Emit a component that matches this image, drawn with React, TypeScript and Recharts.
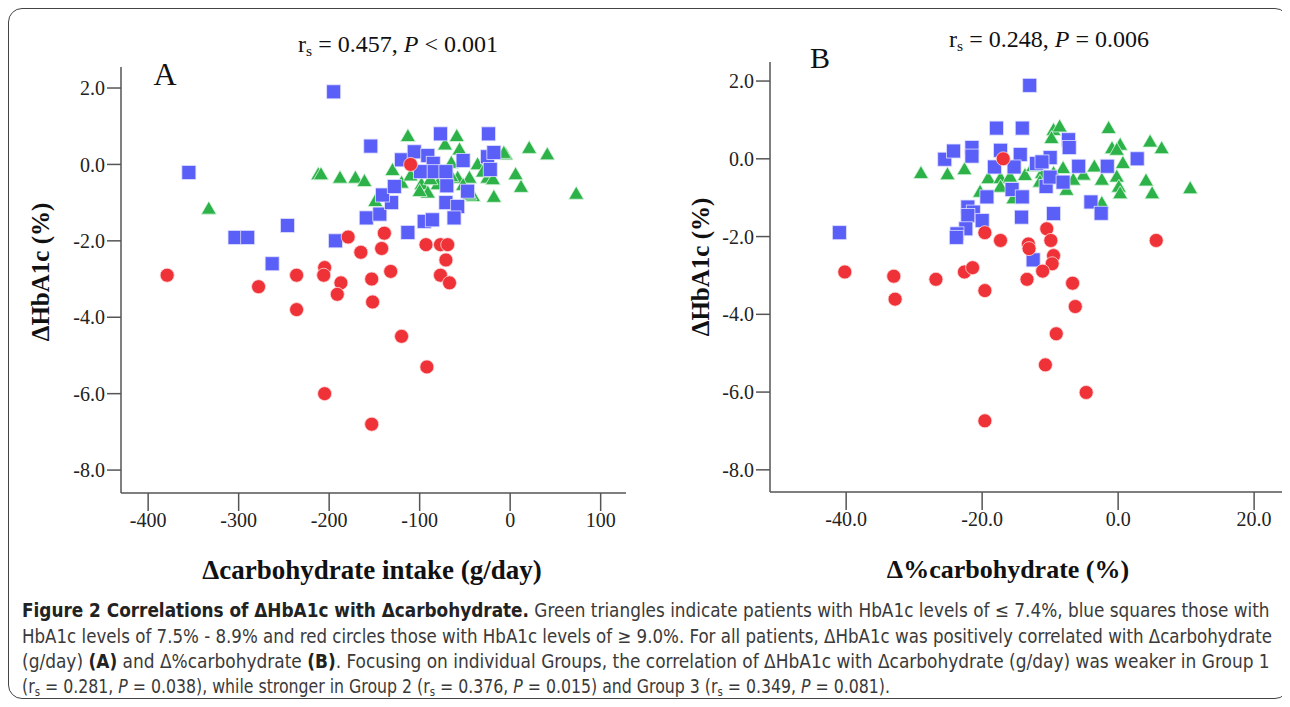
import React, { useLayoutEffect, useRef, useState } from 'react';
import { ScatterChart, Scatter, XAxis, YAxis } from 'recharts';

// panel A: Δcarbohydrate intake (g/day) vs ΔHbA1c (%)
const greenA: [number, number][] = [
  [-333, -1.17], [-212, -0.27], [-209, -0.27], [-188, -0.36], [-171, -0.36], [-161, -0.45],
  [-130, -0.16], [-149, -0.97], [-113, 0.73], [-59, 0.73], [-72, 0.51], [-56, 0.38],
  [21, 0.42], [41, 0.25], [-5, 0.25], [-7, 0.29], [6, -0.27], [12, -0.6], [-18, -0.86],
  [73, -0.78], [-120, -0.49], [-98, -0.53], [-91, -0.75], [-100, -0.71], [-58, -0.36],
  [-45, -0.36], [-36, -0.01], [-25, -0.36], [-41, -0.84], [-80, -0.53], [-65, -0.32],
  [-65, 0.03], [-19, -0.4], [-45, -0.8], [-110, -0.3], [-88, -0.4], [-30, -0.2], [-52, -0.55],
];
const blueA: [number, number][] = [
  [-195, 1.9], [-154, 0.48], [-355, -0.21], [-304, -1.91], [-290, -1.91], [-246, -1.6],
  [-263, -2.6], [-193, -2.0], [-159, -1.4], [-144, -1.3], [-131, -1.0], [-141, -0.8],
  [-128, -0.58], [-120, 0.12], [-77, 0.8], [-24, 0.8], [-106, 0.33], [-91, 0.23],
  [-85, 0.03], [-52, 0.1], [-25, 0.2], [-18, 0.31], [-22, -0.13], [-99, -0.19],
  [-84, -0.19], [-71, -0.19], [-70, -0.56], [-47, -0.7], [-71, -1.0], [-58, -1.1],
  [-62, -1.4], [-95, -1.49], [-86, -1.45], [-113, -1.78],
];
const redA: [number, number][] = [
  [-379, -2.9], [-278, -3.2], [-236, -2.9], [-236, -3.8], [-205, -2.7], [-206, -2.9],
  [-187, -3.1], [-191, -3.4], [-179, -1.9], [-165, -2.3], [-139, -1.8], [-142, -2.2],
  [-132, -2.8], [-153, -3.0], [-152, -3.6], [-120, -4.5], [-92, -5.3], [-205, -6.0],
  [-153, -6.8], [-93, -2.1], [-77, -2.1], [-69, -2.1], [-71, -2.5], [-77, -2.9],
  [-67, -3.1], [-110, 0.0],
];

// panel B: Δ%carbohydrate (%) vs ΔHbA1c (%)
const greenB: [number, number][] = [
  [-29.0, -0.38], [-25.1, -0.41], [-22.6, -0.28], [-19.1, -0.51], [-17.3, -0.51], [-15.9, -0.47],
  [-13.7, -0.43], [-20.3, -0.86], [-17.3, -0.73], [-15.4, -1.03], [-9.5, 0.73], [-9.8, 0.52],
  [-8.6, 0.82], [-1.4, 0.78], [-0.9, 0.26], [0.3, 0.35], [-0.2, 0.22], [4.7, 0.43], [6.4, 0.26],
  [0.7, -0.12], [-0.2, -0.47], [0.1, -0.73], [0.3, -0.9], [4.1, -0.57], [5.0, -0.9],
  [10.6, -0.77], [-2.4, -1.15], [-3.5, -0.21], [-5.1, -0.42], [-2.4, -0.55], [-8.1, -0.25],
  [-7.6, -0.81], [-6.6, -0.55], [-9.5, -0.38], [-11.2, -0.38], [-12.5, -0.2], [-11.5, -0.6],
];
const blueB: [number, number][] = [
  [-41.0, -1.9], [-13.0, 1.89], [-17.9, 0.79], [-14.1, 0.79], [-25.5, -0.01], [-24.2, 0.2],
  [-21.5, 0.29], [-21.5, 0.07], [-17.3, 0.22], [-14.4, 0.11], [-12.0, -0.12], [-18.2, -0.21],
  [-15.3, -0.21], [-15.6, -0.79], [-19.3, -0.98], [-14.1, -0.98], [-14.2, -1.5], [-22.1, -1.24],
  [-21.3, -1.37], [-22.1, -1.46], [-20.0, -1.59], [-22.4, -1.8], [-23.7, -1.93], [-23.8, -2.02],
  [-12.5, -2.6], [-10.0, 0.03], [-10.6, -0.71], [-9.5, -1.41], [-7.3, 0.49], [-7.2, 0.29],
  [-11.2, -0.08], [-5.8, -0.19], [-1.6, -0.19], [2.8, 0.0], [-10.0, -0.47], [-8.1, -0.6],
  [-4.0, -1.11], [-2.5, -1.4],
];
const redB: [number, number][] = [
  [-40.2, -2.91], [-33.0, -3.02], [-32.8, -3.61], [-26.8, -3.1], [-22.6, -2.91], [-21.4, -2.8],
  [-19.6, -1.9], [-17.3, -2.1], [-19.6, -3.39], [-16.9, 0.0], [-13.2, -2.19], [-13.1, -2.31],
  [-13.4, -3.1], [-10.5, -1.8], [-9.9, -2.1], [-9.5, -2.49], [-9.7, -2.7], [-11.1, -2.89],
  [-6.7, -3.2], [-6.3, -3.8], [-9.1, -4.5], [-10.7, -5.3], [-4.7, -6.01], [5.6, -2.1],
  [-19.6, -6.74],
];

const yTicks = [-8, -6, -4, -2, 0, 2];
const xTicksA = [-400, -300, -200, -100, 0, 100];
const xTicksB = [-40, -20, 0, 20];

const GREEN = '#2db24a';
const BLUE = '#5a5ff8';
const RED = '#ee3237';
const AXIS = '#555';
const SERIF = '"Liberation Serif", "DejaVu Serif", serif';

const toPts = (arr: [number, number][]) => arr.map(([x, y]) => ({ x, y }));

const Square = (p: any) => (
  <rect x={p.cx - 7} y={p.cy - 7} width={14} height={14} fill={BLUE} stroke="#dfe0ff" strokeWidth={0.8} />
);
const Dot = (p: any) => (
  <circle cx={p.cx} cy={p.cy} r={7} fill={RED} stroke="#ffd9da" strokeWidth={0.8} />
);
const Tri = (p: any) => (
  <polygon
    points={`${p.cx},${p.cy - 8} ${p.cx - 7.5},${p.cy + 5} ${p.cx + 7.5},${p.cy + 5}`}
    fill={GREEN}
    stroke="#d8f5dd"
    strokeWidth={0.8}
  />
);

const tickStyle = { fontFamily: SERIF, fontSize: 20, fill: '#222' };

function Panel(props: {
  green: [number, number][];
  blue: [number, number][];
  red: [number, number][];
  xDomain: [number, number];
  yDomain: [number, number];
  xTicks: number[];
  xFmt: (v: number) => string;
  width: number;
  margin: { top: number; right: number; bottom: number; left: number };
}) {
  return (
    <ScatterChart width={props.width} height={560} margin={props.margin}>
      <XAxis
        type="number"
        dataKey="x"
        domain={props.xDomain}
        ticks={props.xTicks}
        allowDataOverflow
        tickFormatter={props.xFmt}
        height={40}
        tickSize={18}
        tick={tickStyle}
        axisLine={{ stroke: AXIS, strokeWidth: 1.5 }}
        tickLine={{ stroke: AXIS, strokeWidth: 1.5 }}
      />
      <YAxis
        type="number"
        dataKey="y"
        domain={props.yDomain}
        ticks={yTicks}
        allowDataOverflow
        tickFormatter={(v: number) => v.toFixed(1)}
        width={60}
        tickSize={14}
        tick={tickStyle}
        axisLine={{ stroke: AXIS, strokeWidth: 1.5 }}
        tickLine={{ stroke: AXIS, strokeWidth: 1.5 }}
      />
      <Scatter data={toPts(props.green)} shape={Tri} isAnimationActive={false} />
      <Scatter data={toPts(props.blue)} shape={Square} isAnimationActive={false} />
      <Scatter data={toPts(props.red)} shape={Dot} isAnimationActive={false} />
    </ScatterChart>
  );
}

function Centered(props: { x: number; y: number; size: number; bold?: boolean; rotate?: boolean; children: React.ReactNode }) {
  return (
    <div
      style={{
        position: 'absolute',
        left: props.x,
        top: props.y,
        transform: `translate(-50%, -50%)${props.rotate ? ' rotate(-90deg)' : ''}`,
        fontFamily: SERIF,
        fontSize: props.size,
        fontWeight: props.bold ? 'bold' : 'normal',
        whiteSpace: 'nowrap',
        color: '#111',
        lineHeight: 1,
      }}
    >
      {props.children}
    </div>
  );
}

function FitLine(props: { top: number; width: number; children: React.ReactNode }) {
  const ref = useRef<HTMLDivElement>(null);
  const [k, setK] = useState(1);
  useLayoutEffect(() => {
    const w = ref.current ? ref.current.scrollWidth : 0;
    if (w > 0) setK(props.width / w);
  }, [props.width]);
  return (
    <div
      ref={ref}
      style={{
        position: 'absolute',
        left: 14,
        top: props.top,
        whiteSpace: 'nowrap',
        transformOrigin: '0 50%',
        transform: `scaleX(${k})`,
        fontFamily: '"Liberation Sans Narrow", "DejaVu Sans Condensed", "Open Sans", sans-serif',
        fontSize: 19,
        lineHeight: '22px',
        color: '#3a3a3a',
      }}
    >
      {props.children}
    </div>
  );
}

const sub = (t: string) => <sub style={{ fontSize: '65%', verticalAlign: '-0.25em' }}>{t}</sub>;

export default function App() {
  return (
    <div style={{ position: 'relative', width: 1274, height: 699, background: '#fff' }}>
      <div
        style={{
          position: 'absolute',
          left: 0,
          top: 0,
          width: 1281,
          height: 691,
          border: '1.5px solid #444',
          borderRadius: 14,
          boxSizing: 'border-box',
        }}
      />
      <div style={{ position: 'absolute', left: 0, top: 0 }}>
        <Panel
          green={greenA}
          blue={blueA}
          red={redA}
          xDomain={[-430, 128]}
          yDomain={[-8.6, 2.55]}
          xTicks={xTicksA}
          xFmt={(v) => String(v)}
          width={640}
          margin={{ top: 59, right: 22, bottom: 35, left: 53 }}
        />
      </div>
      <div style={{ position: 'absolute', left: 650, top: 0 }}>
        <Panel
          green={greenB}
          blue={blueB}
          red={redB}
          xDomain={[-51.2, 24.1]}
          yDomain={[-8.57, 2.49]}
          xTicks={xTicksB}
          xFmt={(v) => v.toFixed(1)}
          width={624}
          margin={{ top: 54, right: 0, bottom: 36, left: 52 }}
        />
      </div>

      <Centered x={390} y={37} size={24}>
        r{sub('s')} = 0.457, <i>P</i> &lt; 0.001
      </Centered>
      <Centered x={1041} y={32} size={24}>
        r{sub('s')} = 0.248, <i>P</i> = 0.006
      </Centered>
      <Centered x={157} y={66} size={32}>A</Centered>
      <Centered x={812} y={50} size={30}>B</Centered>
      <Centered x={32} y={264} size={25} bold rotate>ΔHbA1c (%)</Centered>
      <Centered x={692} y={259} size={25} bold rotate>ΔHbA1c (%)</Centered>
      <Centered x={364} y={562} size={27} bold>Δcarbohydrate intake (g/day)</Centered>
      <Centered x={1000} y={562} size={26} bold>Δ%carbohydrate (%)</Centered>

      <FitLine top={591} width={1248}>
        <b style={{ color: '#222' }}>Figure 2 Correlations of ΔHbA1c with Δcarbohydrate.</b> Green triangles indicate patients with HbA1c levels of ≤ 7.4%, blue squares those with
      </FitLine>
      <FitLine top={617} width={1250}>
        HbA1c levels of 7.5% - 8.9% and red circles those with HbA1c levels of ≥ 9.0%. For all patients, ΔHbA1c was positively correlated with Δcarbohydrate
      </FitLine>
      <FitLine top={642} width={1248}>
        (g/day) <b style={{ color: '#222' }}>(A)</b> and Δ%carbohydrate <b style={{ color: '#222' }}>(B)</b>. Focusing on individual Groups, the correlation of ΔHbA1c with Δcarbohydrate (g/day) was weaker in Group 1
      </FitLine>
      <FitLine top={667} width={868}>
        (r{sub('s')} = 0.281, <i>P</i> = 0.038), while stronger in Group 2 (r{sub('s')} = 0.376, <i>P</i> = 0.015) and Group 3 (r{sub('s')} = 0.349, <i>P</i> = 0.081).
      </FitLine>
    </div>
  );
}
